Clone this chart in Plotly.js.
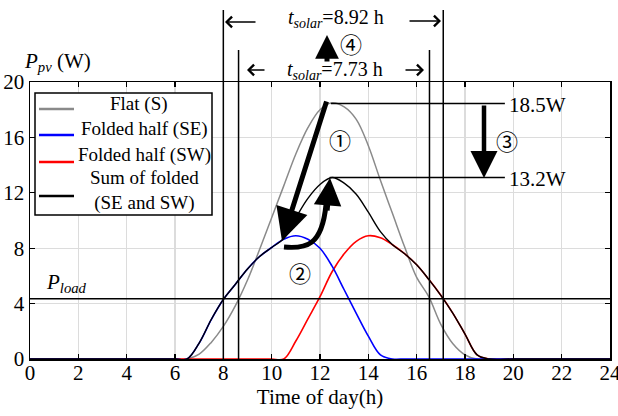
<!DOCTYPE html>
<html>
<head>
<meta charset="utf-8">
<script src="https://cdn.plot.ly/plotly-3.0.1.min.js"></script>
<style>html,body{margin:0;padding:0;background:#fff;}#chart{width:618px;height:416px;}</style>
</head>
<body>
<div id="chart"></div>
<script>
// ---- data ----
const hours = [0,1,2,3,4,5,6,6.5,7,7.5,8,8.5,9,9.5,10,10.5,11,11.5,12,12.5,13,13.5,14,14.5,15,15.5,16,16.5,17,17.5,18,18.5,19,20,21,22,23,24];
const flatS = [0,0,0,0,0,0,0,0,0.35,1.2,2.35,3.85,5.7,7.9,10.2,12.5,14.8,16.7,18.0,18.5,18.2,17.3,15.4,12.9,10.5,8.1,5.9,4.5,2.5,1.1,0.3,0,0,0,0,0,0,0];
const foldedSE = [0,0,0,0,0,0,0,0,1.15,2.85,4.3,5.4,6.5,7.4,8.05,8.65,8.9,8.65,8.0,6.7,5.0,3.3,1.65,0.3,0,0,0,0,0,0,0,0,0,0,0,0,0,0];
const foldedSW = [0,0,0,0,0,0,0,0,0,0,0,0,0,0,0,0,1.3,2.9,4.5,6.3,7.6,8.5,8.9,8.75,8.25,7.6,6.8,5.75,4.6,3.3,1.8,0.3,0,0,0,0,0,0];
const sumFolded = [0,0,0,0,0,0,0,0,1.15,2.85,4.3,5.4,6.5,7.4,8.05,8.7,10.2,11.6,12.6,13.1,12.7,11.9,10.6,9.2,8.25,7.6,6.8,5.75,4.6,3.3,1.8,0.3,0,0,0,0,0,0];
const seriesNames = ['Flat (S)','Folded half (SE)','Folded half (SW)','Sum of folded<br>(SE and SW)'];
const pLoad = 4.35;
const peakFlat = 18.45, peakSum = 13.1;
const tCross = [8.0, 8.63, 16.53, 17.1];
const xTicks = [0,2,4,6,8,10,12,14,16,18,20,22,24];
const yTicks = [0,4,8,12,16,20];

// ---- layout helpers (pixel -> paper) ----
const L=30, T=82, W=580, H=277;
const fx = p => (p-L)/W;
const fy = p => (T+H-p)/H;
const FONT = 'Liberation Serif';
const CIRC = 'Noto Sans CJK JP';

const lineStyle = (c,w)=>({shape:'spline', smoothing:1, color:c, width:w});
const mk = (y,name,c,w)=>({x:hours, y:y, name:name, mode:'lines', line:lineStyle(c,w), hoverinfo:'skip', showlegend:false});
const traces = [
  mk(flatS, seriesNames[0], '#8a8a8a', 1.5),
  mk(foldedSW, seriesNames[2], '#ff0000', 1.6),
  mk(foldedSE, seriesNames[1], '#0000ff', 1.6),
  mk(sumFolded, seriesNames[3], '#000000', 1.4)
];

const shapes = [];
const vTops = [10, 50, 50, 10];
tCross.forEach((t,i)=>shapes.push({type:'line', xref:'x', yref:'paper', x0:t, x1:t, y0:0, y1:fy(vTops[i]), line:{color:'#000', width:1.5}, layer:'above'}));
shapes.push({type:'line', xref:'paper', yref:'y', x0:0, x1:1, y0:pLoad, y1:pLoad, line:{color:'#000', width:1.5}, layer:'above'});
shapes.push({type:'line', xref:'x', yref:'y', x0:12.45, x1:19.65, y0:peakFlat, y1:peakFlat, line:{color:'#000', width:1.5}, layer:'above'});
shapes.push({type:'line', xref:'x', yref:'y', x0:12.4, x1:19.65, y0:peakSum, y1:peakSum, line:{color:'#000', width:1.5}, layer:'above'});
const P = (x,y)=>fx(x).toFixed(4)+','+fy(y).toFixed(4);
shapes.push({type:'path', xref:'paper', yref:'paper', path:'M'+P(284,247)+' C'+P(306,249)+' '+P(322,246)+' '+P(326,205), line:{color:'#000', width:5}, layer:'above'});
shapes.push({type:'rect', xref:'paper', yref:'paper', x0:fx(35), x1:fx(212), y0:fy(215), y1:fy(93), fillcolor:'#fff', line:{color:'#000', width:1.5}, layer:'above'});
const legColors = ['#8a8a8a','#0000ff','#ff0000','#000000'];
const legY = [109, 135, 162, 196];
legY.forEach((y,i)=>shapes.push({type:'line', xref:'paper', yref:'paper', x0:fx(39), x1:fx(74), y0:fy(y), y1:fy(y), line:{color:legColors[i], width:2.5}, layer:'above'}));

const ann = [];
const txt = (x,y,text,size,anchor,fam)=>({xref:'paper', yref:'paper', x:fx(x), y:fy(y), text:text, showarrow:false, xanchor:anchor||'center', yanchor:'middle', font:{family:fam||FONT, size:size||20, color:'#000'}});
ann.push(txt(139,104,'Flat (S)',19));
ann.push(txt(144,129,'Folded half (SE)',19));
ann.push(txt(144,155,'Folded half (SW)',19));
ann.push(txt(144,190,'Sum of folded<br>(SE and SW)',19));
ann.push(txt(22,62,'<i>P</i><sub><i>pv</i></sub> (W)',21,'left'));
ann.push(txt(44,283,'<i>P</i><sub><i>load</i></sub>',21,'left'));
ann.push(txt(507,105,'18.5W',21,'left'));
ann.push(txt(507,179,'13.2W',21,'left'));
ann.push(txt(336,18,'<i>t</i><sub><i>solar</i></sub>=8.92 h',20));
ann.push(txt(335,70,'<i>t</i><sub><i>solar</i></sub>=7.73 h',20));
ann.push(txt(340,139,'①',22,'center',CIRC));
ann.push(txt(300,272,'②',22,'center',CIRC));
ann.push(txt(507,140,'③',22,'center',CIRC));
ann.push(txt(351,43,'④',22,'center',CIRC));
const arrow = (tx,ty,ax,ay,w,head,size)=>({xref:'paper', yref:'paper', x:fx(tx), y:fy(ty), ax:ax-tx, ay:ay-ty, text:'', showarrow:true, arrowhead:head, arrowwidth:w, arrowsize:size, arrowcolor:'#000'});
ann.push(arrow(282,241,327,100,5,2,1.3));   // arrow 1
ann.push(arrow(330,178,327,212,5,2,1.1));   // arrow 2 head
ann.push(arrow(484,178,484,104,4.5,2,1.2)); // arrow 3
ann.push(arrow(327,35,327,63,5,2,0.95));    // arrow 4
ann.push(arrow(225,22,257,22,1.3,4,1.6));
ann.push(arrow(441,21,408,21,1.3,4,1.6));
ann.push(arrow(247,70,266,70,1.3,4,1.6));
ann.push(arrow(424,70,404,70,1.3,4,1.6));

const axisCommon = {showline:true, linecolor:'#000', linewidth:1.5, mirror:'ticks', ticks:'inside', ticklen:5, tickcolor:'#000', tickwidth:1.2, showgrid:true, gridcolor:'#dcdcdc', gridwidth:1.2, zeroline:false, tickfont:{family:FONT, size:21, color:'#000'}, ticklabeloverflow:'allow', fixedrange:true};

const layout = {
  width:618, height:416,
  margin:{l:L, r:618-L-W, t:T, b:416-T-H, pad:0},
  paper_bgcolor:'#fff', plot_bgcolor:'#fff',
  font:{family:FONT, color:'#000'},
  showlegend:false,
  xaxis: Object.assign({}, axisCommon, {range:[0,24], tickvals:xTicks, ticktext:xTicks.map(String), ticklabelstandoff:-6, title:{text:'Time of day(h)', font:{family:FONT, size:21, color:'#000'}, standoff:0}}),
  yaxis: Object.assign({}, axisCommon, {range:[0,20], tickvals:yTicks, ticktext:yTicks.map(String)}),
  shapes: shapes,
  annotations: ann
};

Plotly.newPlot('chart', traces, layout, {staticPlot:true, displayModeBar:false});
</script>
</body>
</html>
